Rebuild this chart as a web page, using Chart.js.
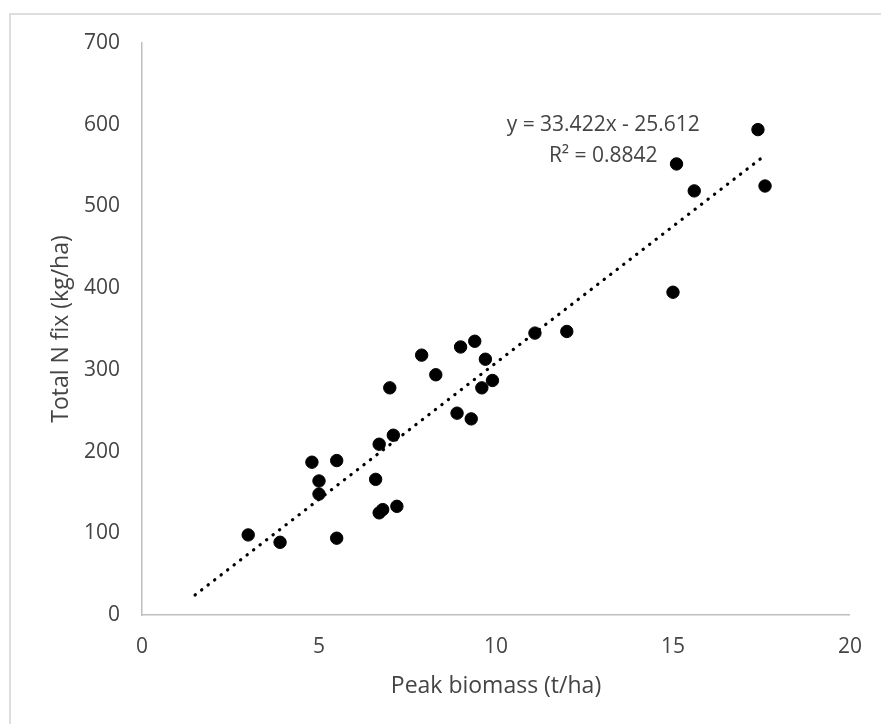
<!DOCTYPE html>
<html>
<head>
<meta charset="utf-8">
<script src="https://cdn.jsdelivr.net/npm/chart.js@4.4.1/dist/chart.umd.min.js"></script>
<style>
  html, body { margin: 0; padding: 0; background: #fff; }
  #wrap { position: relative; width: 881px; height: 724px; overflow: hidden; }
  #frame { position: absolute; left: 9px; top: 13px; width: 900px; height: 740px; border-left: 2px solid #dedede; border-top: 2px solid #dedede; }
  canvas { position: absolute; left: 0; top: 0; }
</style>
</head>
<body>
<div id="wrap">
  <div id="frame"></div>
  <canvas id="grafico" width="881" height="724"></canvas>
</div>
<script>
// biomassa de pico (t/ha) e N total fixado (kg/ha)
const biomassa = [3.0, 3.9, 4.8, 5.5, 5.0, 5.0, 5.5, 6.6, 6.7, 7.1, 7.0, 6.7, 6.8, 7.2, 7.9,
  8.3, 8.9, 9.0, 9.3, 9.4, 9.7, 9.6, 9.9, 11.1, 12.0, 15.0, 15.1, 15.6, 17.4, 17.6];
const nFix = [98, 89, 187, 189, 164, 148, 94, 166, 209, 220, 278, 125, 129, 133, 318,
  294, 247, 328, 240, 335, 313, 278, 287, 345, 347, 395, 552, 519, 594, 525];

// extremos da linha de tendência (y = 33.422x - 25.612)
const tendX = [1.5, 17.6];
const tendY = [24.5, 562.6];

const xTicks = [0, 5, 10, 15, 20];
const yTicks = [0, 100, 200, 300, 400, 500, 600, 700];

const equacao = ["y = 33.422x - 25.612", "R² = 0.8842"];
const equacaoPos = { x: 13.03, y: [599.5, 562] };

const cinza = "#444444";
const fonte = "'Open Sans', 'Noto Sans', sans-serif";

const textoEquacao = {
  id: "textoEquacao",
  afterDatasetsDraw(chart) {
    const ctx = chart.ctx;
    const xs = chart.scales.x, ys = chart.scales.y;
    ctx.save();
    ctx.fillStyle = cinza;
    ctx.font = "21px " + fonte;
    ctx.textAlign = "center";
    ctx.textBaseline = "middle";
    equacao.forEach((t, i) => {
      ctx.fillText(t, xs.getPixelForValue(equacaoPos.x), ys.getPixelForValue(equacaoPos.y[i]));
    });
    ctx.restore();
  }
};

new Chart(document.getElementById("grafico"), {
  type: "scatter",
  data: {
    datasets: [
      {
        label: "Dados",
        data: biomassa.map((b, i) => ({ x: b, y: nFix[i] })),
        backgroundColor: "#000",
        borderColor: "#000",
        pointRadius: 6.2,
        pointHoverRadius: 6.2,
        order: 1
      },
      {
        label: "Tendência",
        type: "line",
        data: tendX.map((x, i) => ({ x: x, y: tendY[i] })),
        borderColor: "#000",
        borderWidth: 3.2,
        borderDash: [0.3, 7.9],
        borderCapStyle: "round",
        pointRadius: 0,
        fill: false,
        order: 2
      }
    ]
  },
  options: {
    responsive: false,
    animation: false,
    events: [],
    layout: { padding: { top: 43, right: 27, left: 0, bottom: 0 } },
    plugins: { legend: { display: false }, tooltip: { enabled: false } },
    scales: {
      x: {
        type: "linear",
        min: 0, max: 20,
        afterBuildTicks: s => { s.ticks = xTicks.map(v => ({ value: v })); },
        afterFit: s => { s.height = 109; },
        grid: { display: false, drawTicks: false },
        border: { display: true, color: "#bfbfbf", width: 1.5 },
        ticks: { color: cinza, font: { family: fonte, size: 21 }, padding: 19 },
        title: { display: true, text: "Peak biomass (t/ha)", color: cinza,
          font: { family: fonte, size: 23 }, padding: { top: 0, bottom: 24 } }
      },
      y: {
        type: "linear",
        min: 0, max: 700,
        afterBuildTicks: s => { s.ticks = yTicks.map(v => ({ value: v })); },
        afterFit: s => { s.width = 142; },
        grid: { display: false, drawTicks: false },
        border: { display: true, color: "#bfbfbf", width: 1.5 },
        ticks: { color: cinza, font: { family: fonte, size: 21 }, padding: 22 },
        title: { display: true, text: "Total N fix (kg/ha)", color: cinza,
          font: { family: fonte, size: 23 }, padding: { top: 48, bottom: 0 } }
      }
    }
  },
  plugins: [textoEquacao]
});
</script>
</body>
</html>
